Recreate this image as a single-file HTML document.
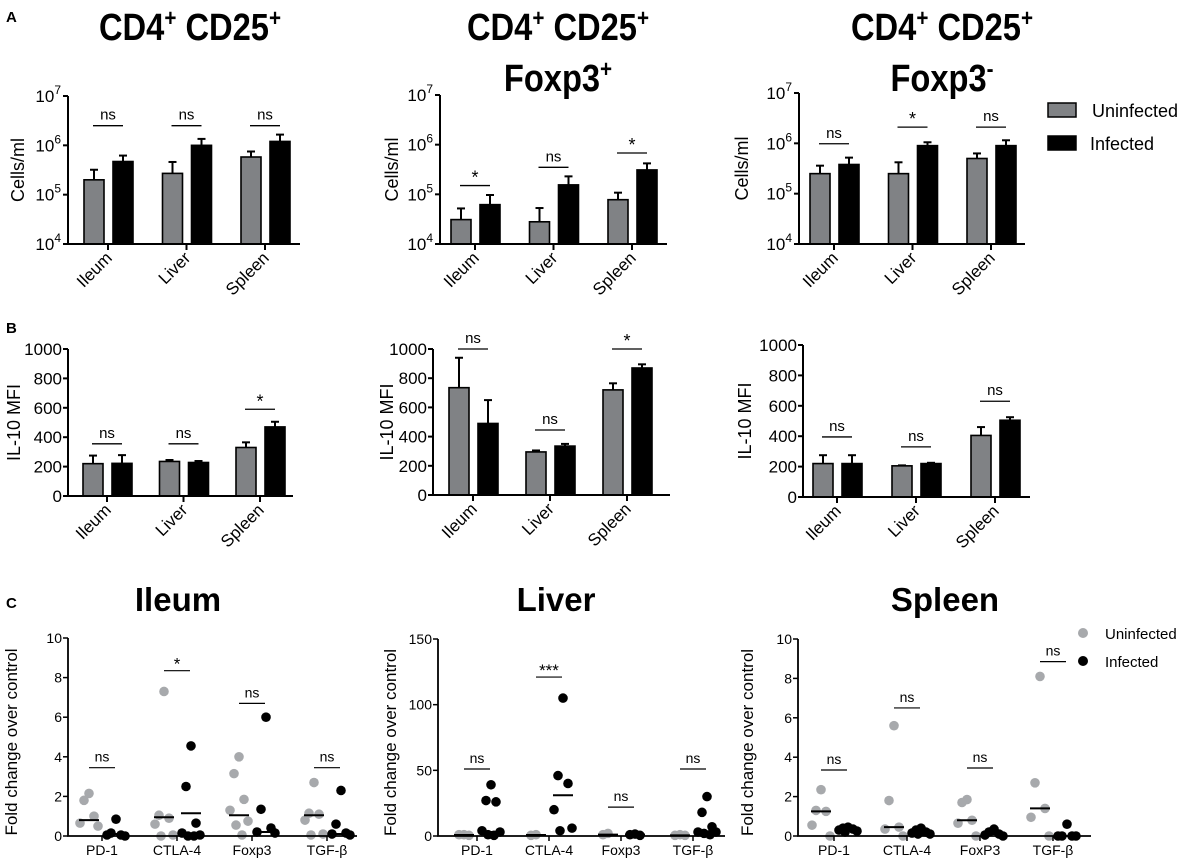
<!DOCTYPE html>
<html><head><meta charset="utf-8">
<style>
html,body{margin:0;padding:0;background:#fff;}
svg{display:block;font-family:"Liberation Sans",Arial,sans-serif;}
</style></head>
<body>
<svg id="fig" width="1186" height="862" viewBox="0 0 1186 862" xmlns="http://www.w3.org/2000/svg">
<g font-weight="bold" font-size="15">
<text x="6" y="22">A</text>
<text x="6" y="333">B</text>
<text x="6" y="608">C</text>
</g>
<g font-weight="bold" font-size="38" text-anchor="middle">
<g transform="translate(190,0) scale(0.86,1)"><text x="0" y="40">CD4<tspan font-size="24" dy="-14">+</tspan><tspan dy="14"> CD25</tspan><tspan font-size="24" dy="-14">+</tspan></text></g>
<g transform="translate(558,0) scale(0.86,1)"><text x="0" y="40">CD4<tspan font-size="24" dy="-14">+</tspan><tspan dy="14"> CD25</tspan><tspan font-size="24" dy="-14">+</tspan></text>
<text x="0" y="91">Foxp3<tspan font-size="24" dy="-14">+</tspan></text></g>
<g transform="translate(942,0) scale(0.86,1)"><text x="0" y="40">CD4<tspan font-size="24" dy="-14">+</tspan><tspan dy="14"> CD25</tspan><tspan font-size="24" dy="-14">+</tspan></text>
<text x="0" y="91">Foxp3<tspan font-size="24" dy="-14">-</tspan></text></g>
</g>
<g font-weight="bold" font-size="33" text-anchor="middle">
<text x="178" y="611">Ileum</text>
<text x="556" y="611">Liver</text>
<text x="945" y="611">Spleen</text>
</g>
<g>
<rect x="1048" y="103" width="28" height="14" fill="#808285" stroke="#000" stroke-width="1.5"/>
<text x="1092" y="117" font-size="18">Uninfected</text>
<rect x="1048" y="136" width="28" height="14" fill="#000" stroke="#000" stroke-width="1.5"/>
<text x="1090" y="150" font-size="18">Infected</text>
</g>
<g>
<circle cx="1083" cy="633" r="5" fill="#a7a9ac"/>
<text x="1105" y="639" font-size="15">Uninfected</text>
<circle cx="1083" cy="661" r="5" fill="#000"/>
<text x="1105" y="667" font-size="15">Infected</text>
</g>
</svg>
<script>
// ---- data ----
const organs = ["Ileum","Liver","Spleen"];
const a1Uninf = [2.0e5, 2.7e5, 5.8e5];
const a1UninfErr = [3.2e5, 4.6e5, 7.5e5];
const a1Inf = [4.7e5, 1.0e6, 1.2e6];
const a1InfErr = [6.2e5, 1.35e6, 1.65e6];
const a1Sig = ["ns","ns","ns"];
const a1SigVal = [2.5e6, 2.5e6, 2.5e6];

const a2Uninf = [3.1e4, 2.8e4, 7.8e4];
const a2UninfErr = [5.2e4, 5.3e4, 1.08e5];
const a2Inf = [6.2e4, 1.55e5, 3.1e5];
const a2InfErr = [9.7e4, 2.3e5, 4.2e5];
const a2Sig = ["*","ns","*"];
const a2SigVal = [1.5e5, 3.5e5, 6.8e5];

const a3Uninf = [2.5e5, 2.5e5, 5.0e5];
const a3UninfErr = [3.6e5, 4.2e5, 6.3e5];
const a3Inf = [3.8e5, 9.0e5, 9.0e5];
const a3InfErr = [5.2e5, 1.05e6, 1.15e6];
const a3Sig = ["ns","*","ns"];
const a3SigVal = [9.8e5, 2.1e6, 2.1e6];

const b1Uninf = [220, 235, 330];
const b1UninfErr = [275, 245, 365];
const b1Inf = [222, 228, 470];
const b1InfErr = [278, 238, 505];
const b1Sig = ["ns","ns","*"];
const b1SigVal = [355, 355, 590];

const b2Uninf = [735, 295, 720];
const b2UninfErr = [940, 305, 765];
const b2Inf = [490, 335, 870];
const b2InfErr = [650, 350, 895];
const b2Sig = ["ns","ns","*"];
const b2SigVal = [1000, 445, 1000];

const b3Uninf = [220, 205, 405];
const b3UninfErr = [275, 208, 460];
const b3Inf = [220, 220, 505];
const b3InfErr = [275, 225, 525];
const b3Sig = ["ns","ns","ns"];
const b3SigVal = [395, 330, 630];

const logTicks = [4,5,6,7];
const linTicks = [0,200,400,600,800,1000];

const genesC1 = ["PD-1","CTLA-4","Foxp3","TGF-β"];
const c1U = [[2.15,1.8,1.0,0.65,0.5],[7.3,1.05,0.9,0.6,0.05,0.0],[4.0,3.15,1.85,1.3,0.75,0.55,0.05],[2.7,1.15,1.1,0.8,0.1,0.05]];
const c1I = [[0.85,0.15,0.05,0.05,0.0],[4.55,2.5,0.65,0.15,0.05,0.0,0.0],[6.0,1.35,0.4,0.2,0.15],[2.3,0.6,0.15,0.1,0.05]];
const c1UMed = [0.8,0.95,1.05,1.05];
const c1IMed = [0.1,1.15,0.2,0.1];
const c1Sig = ["ns","*","ns","ns"];
const c1SigVal = [3.45,8.35,6.7,3.45];
const c1Ticks = [0,2,4,6,8,10];

const genesC2 = ["PD-1","CTLA-4","Foxp3","TGF-β"];
const c2U = [[1,1,0.5],[1,0.5],[2,1],[1,0.5,0.5]];
const c2I = [[39,27,26,4,3,1,0.5],[105,46,40,20,6,4],[1.5,1,0.5],[30,18,7,3,3,2,1]];
const c2UMed = [0.8,0.8,1,0.5];
const c2IMed = [3,31,1,3];
const c2Sig = ["ns","***","ns","ns"];
const c2SigVal = [51,121,22,51];
const c2Ticks = [0,50,100,150];

const genesC3 = ["PD-1","CTLA-4","FoxP3","TGF-β"];
const c3U = [[2.35,1.3,1.25,0.55,0.0],[5.6,1.8,0.45,0.35,0.0],[1.85,1.7,0.8,0.65,0.0],[8.1,2.7,1.4,0.95,0.0]];
const c3I = [[0.45,0.4,0.35,0.3,0.25,0.2],[0.4,0.3,0.2,0.15,0.1,0.1],[0.35,0.2,0.1,0.05,0.0],[0.6,0.0,0.0,0.0,0.0]];
const c3UMed = [1.25,0.45,0.8,1.4];
const c3IMed = [0.3,0.2,0.1,0.0];
const c3Sig = ["ns","ns","ns","ns"];
const c3SigVal = [3.35,6.5,3.45,8.85];
const c3Ticks = [0,2,4,6,8,10];

// ---- drawing ----
const NS = "http://www.w3.org/2000/svg";
const svg = document.getElementById("fig");
function mk(tag, attrs, parent, txt){
  const e = document.createElementNS(NS, tag);
  for (const k in attrs) e.setAttribute(k, attrs[k]);
  if (txt !== undefined) e.textContent = txt;
  (parent || svg).appendChild(e);
  return e;
}

function barPanel(name, L, log, uninf, uErr, inf, iErr, sig, sigVal, ylabel){
  const g = mk("g", {});
  
  
  const y = log ? (v => L.bottom - (Math.log10(v) - 4) / 3 * (L.bottom - L.top))
                : (v => L.bottom - v / 1000 * (L.bottom - L.top));
  const ticks = log ? logTicks : linTicks;
  ticks.forEach(t => {
    const yy = log ? y(Math.pow(10, t)) : y(t);
    const tl = mk("line", {x1: L.x0 - 5, x2: L.x0, y1: yy, y2: yy, stroke: "#000", "stroke-width": 2}, g);
    
    
    let lab;
    if (log) {
      lab = mk("text", {x: L.x0 - 7, y: yy + 6, "text-anchor": "end", "font-size": 17}, g);
      mk("tspan", {}, lab, "10");
      mk("tspan", {dy: -8, "font-size": 12}, lab, String(t));
    } else {
      lab = mk("text", {x: L.x0 - 6, y: yy + 6, "text-anchor": "end", "font-size": 17}, g, String(t));
    }
    
    
  });
  const yl = mk("text", {transform: `translate(${L.yl},${(L.top + L.bottom) / 2}) rotate(-90)`, "text-anchor": "middle", "font-size": 18}, g, ylabel);
  
  
  organs.forEach((o, i) => {
    const cx = L.t0 + i * L.step;
    const bw = 20;
    const series = [[uninf[i], uErr[i], "#808285", cx - 24], [inf[i], iErr[i], "#000", cx + 5]];
    series.forEach((s, j) => {
      const top = y(s[0]);
      const ex = s[3] + bw / 2;
      const el = mk("line", {x1: ex, x2: ex, y1: top, y2: y(s[1]), stroke: "#000", "stroke-width": 2}, g);
      
      
      const ec = mk("line", {x1: ex - 4, x2: ex + 4, y1: y(s[1]), y2: y(s[1]), stroke: "#000", "stroke-width": 2}, g);
      
      
      const r = mk("rect", {x: s[3], y: top, width: bw, height: L.bottom - top, fill: s[2], stroke: "#000", "stroke-width": 1.6}, g);
      
      
    });
    const sy = y(sigVal[i]);
    const sl = mk("line", {x1: cx - 15, x2: cx + 15, y1: sy, y2: sy, stroke: "#000", "stroke-width": 1.3}, g);
    
    
    const st = mk("text", {x: cx, y: sy - (sig[i] === "*" ? 2 : 6), "text-anchor": "middle", "font-size": sig[i] === "*" ? 18 : 15}, g, sig[i]);
    
    
    const xt = mk("line", {x1: cx, x2: cx, y1: L.bottom, y2: L.bottom + 6, stroke: "#000", "stroke-width": 2}, g);
    
    
    const xl = mk("text", {transform: `translate(${cx + 5},${L.bottom + 15}) rotate(-45)`, "text-anchor": "end", "font-size": 17}, g, o);
    
    
  });
  const ax = mk("path", {d: `M${L.x0},${L.top} V${L.bottom} H${L.x1}`, fill: "none", stroke: "#000", "stroke-width": 2}, g);
  
  
}

const yLab = "Cells/ml", yLabB = "IL-10 MFI";
barPanel("chart-a1", {x0: 68, x1: 300, top: 96, bottom: 244, t0: 108, step: 78.5, yl: 24}, true, a1Uninf, a1UninfErr, a1Inf, a1InfErr, a1Sig, a1SigVal, yLab);
barPanel("chart-a2", {x0: 440, x1: 667, top: 95, bottom: 244, t0: 475, step: 78.5, yl: 398}, true, a2Uninf, a2UninfErr, a2Inf, a2InfErr, a2Sig, a2SigVal, yLab);
barPanel("chart-a3", {x0: 799, x1: 1025, top: 93, bottom: 244, t0: 834, step: 78.5, yl: 748}, true, a3Uninf, a3UninfErr, a3Inf, a3InfErr, a3Sig, a3SigVal, yLab);
barPanel("chart-b1", {x0: 68, x1: 293, top: 349, bottom: 496, t0: 107, step: 76.5, yl: 20}, false, b1Uninf, b1UninfErr, b1Inf, b1InfErr, b1Sig, b1SigVal, yLabB);
barPanel("chart-b2", {x0: 433, x1: 670, top: 349, bottom: 495, t0: 473, step: 77, yl: 393}, false, b2Uninf, b2UninfErr, b2Inf, b2InfErr, b2Sig, b2SigVal, yLabB);
barPanel("chart-b3", {x0: 803, x1: 1030, top: 345, bottom: 497, t0: 837, step: 79, yl: 751}, false, b3Uninf, b3UninfErr, b3Inf, b3InfErr, b3Sig, b3SigVal, yLabB);

function dotPanel(name, L, genes, U, I, UMed, IMed, sig, sigVal, ticks){
  const g = mk("g", {});
  
  
  const ymax = ticks[ticks.length - 1];
  const y = v => L.bottom - v / ymax * (L.bottom - L.top);
  ticks.forEach(t => {
    const yy = y(t);
    const tl = mk("line", {x1: L.x0 - 5, x2: L.x0, y1: yy, y2: yy, stroke: "#000", "stroke-width": 1.5}, g);
    
    
    const lab = mk("text", {x: L.x0 - 6, y: yy + 5, "text-anchor": "end", "font-size": 14}, g, String(t));
    
    
  });
  const yl = mk("text", {transform: `translate(${L.yl},${(L.top + L.bottom) / 2 + 5}) rotate(-90)`, "text-anchor": "middle", "font-size": 17}, g, "Fold change over control");
  
  
  const jit = [0, -5, 5, -9, 9, -3, 3];
  genes.forEach((gn, i) => {
    const cx = L.t0 + i * L.step;
    const sets = [[U[i], UMed[i], "#a7a9ac", cx - 13, "uninfected"], [I[i], IMed[i], "#000", cx + 14, "infected"]];
    sets.forEach(s => {
      s[0].forEach((v, k) => {
        const c = mk("circle", {cx: s[3] + jit[k % jit.length], cy: y(v), r: 4.8, fill: s[2]}, g);
        
        
      });
      const m = mk("line", {x1: s[3] - 10, x2: s[3] + 10, y1: y(s[1]), y2: y(s[1]), stroke: "#000", "stroke-width": 2}, g);
      
      
    });
    const sy = y(sigVal[i]);
    const sl = mk("line", {x1: cx - 13, x2: cx + 13, y1: sy, y2: sy, stroke: "#000", "stroke-width": 1.2}, g);
    
    
    const isStar = sig[i].indexOf("*") >= 0;
    const st = mk("text", {x: cx, y: sy - (isStar ? 1 : 6), "text-anchor": "middle", "font-size": isStar ? 17 : 14}, g, sig[i]);
    
    
    const xt = mk("line", {x1: cx, x2: cx, y1: L.bottom, y2: L.bottom + 5, stroke: "#000", "stroke-width": 1.5}, g);
    
    
    const xl = mk("text", {x: cx, y: L.bottom + 19, "text-anchor": "middle", "font-size": 14}, g, gn);
    
    
  });
  const ax = mk("path", {d: `M${L.x0},${L.top} V${L.bottom} H${L.x1}`, fill: "none", stroke: "#000", "stroke-width": 1.8}, g);
  
  
}

dotPanel("chart-c1-ileum", {x0: 68, x1: 357, top: 638, bottom: 836, t0: 102, step: 75, yl: 17}, genesC1, c1U, c1I, c1UMed, c1IMed, c1Sig, c1SigVal, c1Ticks);
dotPanel("chart-c2-liver", {x0: 438, x1: 725, top: 639, bottom: 836, t0: 477, step: 72, yl: 396}, genesC2, c2U, c2I, c2UMed, c2IMed, c2Sig, c2SigVal, c2Ticks);
dotPanel("chart-c3-spleen", {x0: 798, x1: 1091, top: 639, bottom: 836, t0: 834, step: 73, yl: 753}, genesC3, c3U, c3I, c3UMed, c3IMed, c3Sig, c3SigVal, c3Ticks);
</script>
</body></html>
